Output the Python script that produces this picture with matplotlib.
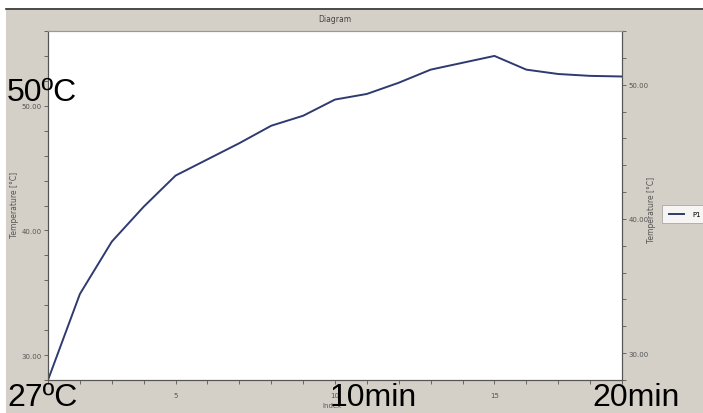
import matplotlib
matplotlib.use("Agg")
import matplotlib.pyplot as plt
from matplotlib.patches import Rectangle
from matplotlib.lines import Line2D
from matplotlib.ticker import MultipleLocator, FormatStrFormatter

# data (index -> temperature)
index = [1, 2, 3, 4, 5, 6, 7, 8, 9, 10, 11, 12, 13, 14, 15, 16, 17, 18, 19]
temperature = [28.0, 34.9, 39.1, 41.9, 44.4, 45.7, 47.0, 48.4, 49.2, 50.5,
               50.95, 51.85, 52.9, 53.45, 54.0, 52.9, 52.55, 52.4, 52.35]
series_name = "P1"
title = "Diagram"
y_label = "Temperature [°C]"
x_label = "Index"
notes = ["50ºC", "27ºC", "10min", "20min"]

W, H = 703, 414
bg = "#d4d0c8"
fig = plt.figure(figsize=(W / 100, H / 100), dpi=100)
fig.patch.set_facecolor(bg)

# white strips round the window, dark edge line on top
fig.patches.append(Rectangle((0, 1 - 9 / H), 1, 9 / H, transform=fig.transFigure,
                             facecolor="white", edgecolor="none", zorder=0))
fig.patches.append(Rectangle((0, 0), 6 / W, 1, transform=fig.transFigure,
                             facecolor="white", edgecolor="none", zorder=0))
fig.lines.append(Line2D([6 / W, 1], [1 - 9.5 / H, 1 - 9.5 / H], transform=fig.transFigure,
                        color="#333333", lw=1.2))

x0, x1, y0, y1 = 48, 622, 32, 381
ax = fig.add_axes([x0 / W, 1 - y1 / H, (x1 - x0) / W, (y1 - y0) / H])
ax.set_facecolor("white")
ax.plot(index, temperature, color="#2e3a70", lw=1.4, label=series_name)
ax.set_xlim(1, 19)
ax.set_ylim(28, 56)

tick_kw = dict(labelsize=5, colors="#555555", length=3, width=0.6)
ax.xaxis.set_major_locator(MultipleLocator(5))
ax.xaxis.set_minor_locator(MultipleLocator(1))
ax.yaxis.set_major_locator(MultipleLocator(10))
ax.yaxis.set_minor_locator(MultipleLocator(2))
ax.yaxis.set_major_formatter(FormatStrFormatter("%.2f"))
ax.tick_params(axis="both", which="both", **tick_kw)
ax.tick_params(axis="x", which="both", pad=6)
ax.tick_params(axis="y", which="both", pad=1.5)

ax2 = ax.twinx()
ax2.set_ylim(28, 54)
ax2.yaxis.set_major_locator(MultipleLocator(10))
ax2.yaxis.set_minor_locator(MultipleLocator(2))
ax2.yaxis.set_major_formatter(FormatStrFormatter("%.2f"))
ax2.tick_params(axis="y", which="both", pad=1.5, **tick_kw)

for a in (ax, ax2):
    for s in a.spines.values():
        s.set_color("#555555")
        s.set_linewidth(0.8)
    a.spines["top"].set_color("#999999")

small = dict(fontsize=5.5, color="#555555", ha="center", va="center")
fig.text(15 / W, 1 - 205 / H, y_label, rotation=90, **small)
fig.text(652 / W, 1 - 210 / H, y_label, rotation=90, **small)
fig.text(332 / W, 1 - 406 / H, x_label, fontsize=5, color="#555555", ha="center", va="center")
fig.text(335 / W, 1 - 20 / H, title, fontsize=5.5, color="#444444", ha="center", va="center")

leg = fig.legend(loc="center left", bbox_to_anchor=(659 / W, 1 - 215 / H), fontsize=5,
                 frameon=True, fancybox=False, handlelength=2.2, borderpad=0.9,
                 handletextpad=1.2)
leg.get_frame().set_edgecolor("#999999")
leg.get_frame().set_linewidth(0.6)

big = dict(fontsize=23, family="Liberation Sans", color="black", va="baseline", zorder=10)
fig.text(7 / W, 1 - 101 / H, notes[0], ha="left", **big)
fig.text(7 / W, 1 - 406 / H, notes[1], ha="left", **big)
fig.text(330 / W, 1 - 406 / H, notes[2], ha="left", **big)
fig.text(592 / W, 1 - 406 / H, notes[3], ha="left", **big)

fig.savefig("out.png", dpi=100, facecolor=fig.get_facecolor())
